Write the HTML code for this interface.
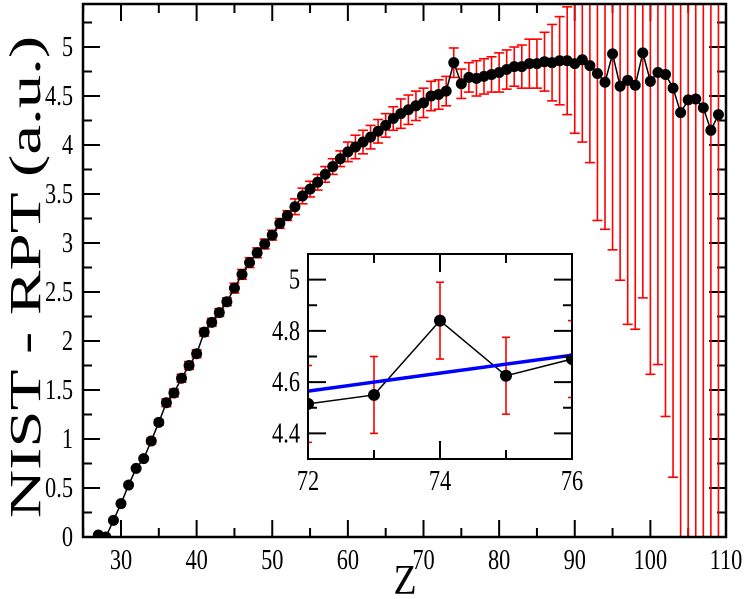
<!DOCTYPE html>
<html><head><meta charset="utf-8"><style>
html,body{margin:0;background:#fff;overflow:hidden;width:747px;height:599px}
svg{display:block;font-family:"Liberation Serif",serif;overflow:hidden}
</style></head><body>
<svg id="c" width="747" height="599" viewBox="0 0 747 599" xmlns="http://www.w3.org/2000/svg"></svg>
<script>
const zs=[27,28,29,30,31,32,33,34,35,36,37,38,39,40,41,42,43,44,45,46,47,48,49,50,51,52,53,54,55,56,57,58,59,60,61,62,63,64,65,66,67,68,69,70,71,72,73,74,75,76,77,78,79,80,81,82,83,84,85,86,87,88,89,90,91,92,93,94,95,96,97,98,99,100,101,102,103,104,105,106,107,108,109];
const vals=[0.02,0.0,0.17,0.34,0.53,0.70,0.80,0.98,1.17,1.37,1.47,1.62,1.75,1.87,2.09,2.19,2.29,2.40,2.54,2.68,2.80,2.90,2.99,3.08,3.20,3.28,3.37,3.48,3.55,3.62,3.70,3.78,3.86,3.93,3.98,4.03,4.08,4.14,4.20,4.27,4.32,4.36,4.40,4.43,4.50,4.515,4.55,4.84,4.625,4.69,4.68,4.70,4.72,4.74,4.77,4.80,4.80,4.83,4.83,4.85,4.84,4.86,4.86,4.83,4.87,4.81,4.73,4.64,4.93,4.60,4.66,4.61,4.94,4.65,4.74,4.72,4.58,4.33,4.46,4.47,4.38,4.15,4.31];
const errs=[0,0,0,0,0,0,0,0.03,0.03,0.04,0.04,0.04,0.04,0.04,0.04,0.04,0.04,0.04,0.05,0.05,0.05,0.05,0.05,0.05,0.05,0.05,0.08,0.08,0.08,0.08,0.08,0.08,0.08,0.1,0.12,0.12,0.12,0.12,0.12,0.12,0.15,0.15,0.15,0.15,0.15,0.15,0.15,0.15,0.15,0.15,0.18,0.18,0.18,0.2,0.2,0.2,0.22,0.25,0.25,0.3,0.39,0.45,0.55,0.71,0.84,0.99,1.5,1.5,2.0,1.98,2.49,2.49,2.5,2.99,2.98,3.49,3.97,5,5,5,5,5,5];
const xTicks=[30,40,50,60,70,80,90,100,110];
const yTicks=[0,0.5,1,1.5,2,2.5,3,3.5,4,4.5,5];
const fitZ=[72,76];
const fitV=[4.565,4.705];
const inXTicks=[72,74,76];
const inYTicks=[4.4,4.6,4.8,5];

const NS="http://www.w3.org/2000/svg";
const svg=document.getElementById('c');
function mk(t,a,p){const e=document.createElementNS(NS,t);for(const k in a)e.setAttribute(k,a[k]);(p||svg).appendChild(e);return e;}
function txt(x,y,s,anchor,size){const e=mk('text',{x:0,y:0,'text-anchor':anchor,'font-size':size,transform:'translate('+x+','+y+') scale(0.86,1.08)'});e.textContent=s;return e;}
const L=83,R=726,T=4,B=537;
const X=z=>121+(z-30)*7.5625;
const Y=v=>537-98*v;
const defs=mk('defs',{});
const cp=mk('clipPath',{id:'mc'},defs);mk('rect',{x:L,y:T,width:R-L,height:B-T},cp);
const cp2=mk('clipPath',{id:'ic'},defs);

const tg=mk('g',{stroke:'#000','stroke-width':2});

for(let z=25;z<=110;z+=5){const x=X(z);const len=z%10==0?17:9;
 mk('line',{x1:x,y1:B,x2:x,y2:B-len},tg);mk('line',{x1:x,y1:T,x2:x,y2:T+len},tg);}
for(let i=0;i<=21;i++){const v=i*0.25;const y=Y(v);if(y<T)continue;const len=i%2==0?17:9;
 mk('line',{x1:L,y1:y,x2:L+len,y2:y},tg);mk('line',{x1:R,y1:y,x2:R-len,y2:y},tg);}
xTicks.forEach(t=>{const e=txt(X(t),B+32,String(t),'middle',26);
 });
yTicks.forEach(t=>{const e=txt(L-10,Y(t)+9,String(t),'end',26);
 });
let e=mk('text',{x:0,y:0,'text-anchor':'middle','font-size':42,transform:'translate(405,594) scale(0.9,1)'});e.textContent='Z';

e=mk('text',{x:0,y:0,'text-anchor':'middle','font-size':44,transform:'translate(40,277) rotate(-90) scale(1.52,1)'});e.textContent='NIST - RPT (a.u.)';


function series(g,Xf,Yf,cw,r,lw){
 zs.forEach((z,i)=>{if(errs[i]<=0)return;const x=Xf(z),y1=Yf(vals[i]+errs[i]),y2=Yf(vals[i]-errs[i]);
  const eb=mk('g',{stroke:'#f00','stroke-width':1.6},g);
  
  mk('line',{x1:x,y1:y1,x2:x,y2:y2},eb);mk('line',{x1:x-cw,y1:y1,x2:x+cw,y2:y1},eb);mk('line',{x1:x-cw,y1:y2,x2:x+cw,y2:y2},eb);});
 const pl=mk('polyline',{points:zs.map((z,i)=>Xf(z)+','+Yf(vals[i])).join(' '),fill:'none',stroke:'#000','stroke-width':lw},g);
 
 zs.forEach((z,i)=>{const c=mk('circle',{cx:Xf(z),cy:Yf(vals[i]),r:r,fill:'#000'},g);
  });
}
const mg=mk('g',{'clip-path':'url(#mc)'});

series(mg,X,Y,5,5.5,1.5);
const fr=mk('rect',{x:L,y:T,width:R-L,height:B-T,fill:'none',stroke:'#000','stroke-width':2.5});


const iL=308,iR=572,iT=254,iB=459;
const IX=z=>iL+(z-72)*(iR-iL)/4;
const IY=v=>iB-(v-4.3)*(iB-iT)/0.8;
mk('rect',{x:iL,y:iT,width:iR-iL,height:iB-iT},cp2);
const ib=mk('rect',{x:iL,y:iT,width:iR-iL,height:iB-iT,fill:'#fff'});

const ig=mk('g',{'clip-path':'url(#ic)'});

series(ig,IX,IY,4,6,1.5);
const fl=mk('line',{x1:IX(fitZ[0]),y1:IY(fitV[0]),x2:IX(fitZ[1]),y2:IY(fitV[1]),stroke:'#00f','stroke-width':3.5},ig);

const it=mk('g',{stroke:'#000','stroke-width':2});

for(let z=72;z<=76;z++){const x=IX(z),len=z%2==0?18:9;mk('line',{x1:x,y1:iB,x2:x,y2:iB-len},it);mk('line',{x1:x,y1:iT,x2:x,y2:iT+len},it);}
for(let i=0;i<=8;i++){const v=4.3+i*0.1,y=IY(v);const len=(i%2==1)?18:9;mk('line',{x1:iL,y1:y,x2:iL+len,y2:y},it);mk('line',{x1:iR,y1:y,x2:iR-len,y2:y},it);}
const ifr=mk('rect',{x:iL,y:iT,width:iR-iL,height:iB-iT,fill:'none',stroke:'#000','stroke-width':2});

inXTicks.forEach(t=>{const e=txt(IX(t),iB+31,String(t),'middle',26);
 });
inYTicks.forEach(t=>{const e=txt(iL-8,IY(t)+9,t.toFixed(1).replace('5.0','5'),'end',26);
 });
</script>
</body></html>
